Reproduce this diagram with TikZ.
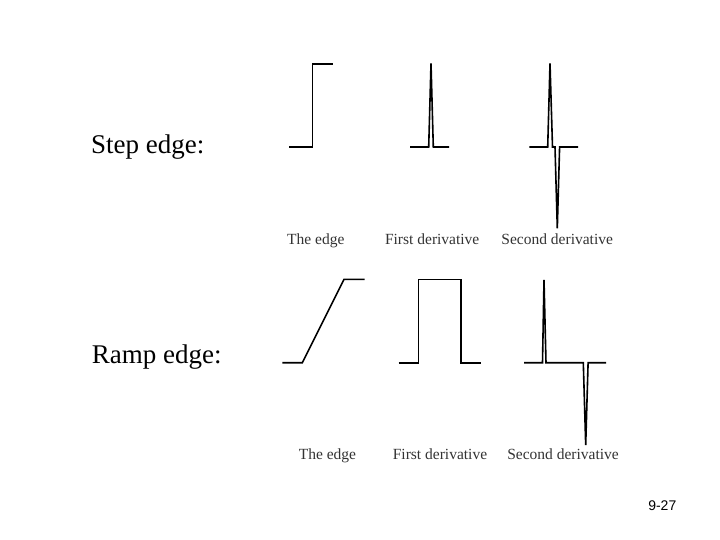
\documentclass[tikz,border=0pt]{standalone}
\usepackage{fontspec}
\setmainfont{Liberation Serif}
\newfontfamily\pagefont{Liberation Sans}
\tikzset{
  curve/.style={line width=1.6pt,line join=miter},
  rowlabel/.style={anchor=base west,inner sep=0pt,font=\fontsize{27}{31}\selectfont},
  caption/.style={anchor=base,inner sep=0pt,text=black!80,font=\fontsize{15.5}{18}\selectfont}
}
\begin{document}
\begin{tikzpicture}[x=1pt,y=-1pt]
 \useasboundingbox[fill=white] (0,0) rectangle (720,540);
 % step edge row
 \node[rowlabel] (steplabel) at (91,153.3) {Step edge:};
 \draw[curve] (289.3,147) -- (312.3,147) -- (312.3,64.3) -- (333.3,64.3);
 \draw[curve] (410,147) -- (428.7,147) -- (431,63.3) -- (433.3,147) -- (449,147);
 \draw[curve] (529.3,147) -- (547.7,147) -- (550,63.3) -- (552.5,147) -- (555,147)
       -- (557.3,228.3) -- (559.6,147) -- (578,147);
 \node[caption] (stepedge) at (315.8,244.3) {The edge};
 \node[caption] (stepfirst) at (432.2,244.3) {First derivative};
 \node[caption] (stepsecond) at (557.2,244.3) {Second derivative};
 % ramp edge row
 \node[rowlabel] (ramplabel) at (91.7,363.3) {Ramp edge:};
 \draw[curve] (282.3,362.7) -- (302.3,362.7) -- (344,279.3) -- (364.7,279.3);
 \draw[curve] (398.7,362.7) -- (418.3,362.7) -- (418.3,279.3) -- (460.7,279.3)
       -- (460.7,362.7) -- (480.7,362.7);
 \draw[curve] (524,362.7) -- (542.5,362.7) -- (544,280) -- (546,362.7) -- (583.3,362.7)
       -- (585.7,445) -- (588.1,362.7) -- (606,362.7);
 \node[caption] (rampedge) at (327.5,459.3) {The edge};
 \node[caption] (rampfirst) at (440,459.3) {First derivative};
 \node[caption] (rampsecond) at (563,459.3) {Second derivative};
 % slide number
 \node[anchor=base east,inner sep=0pt,font=\pagefont\fontsize{14}{16}\selectfont] (pagenum) at (676.5,510) {9-27};
\end{tikzpicture}
\end{document}
